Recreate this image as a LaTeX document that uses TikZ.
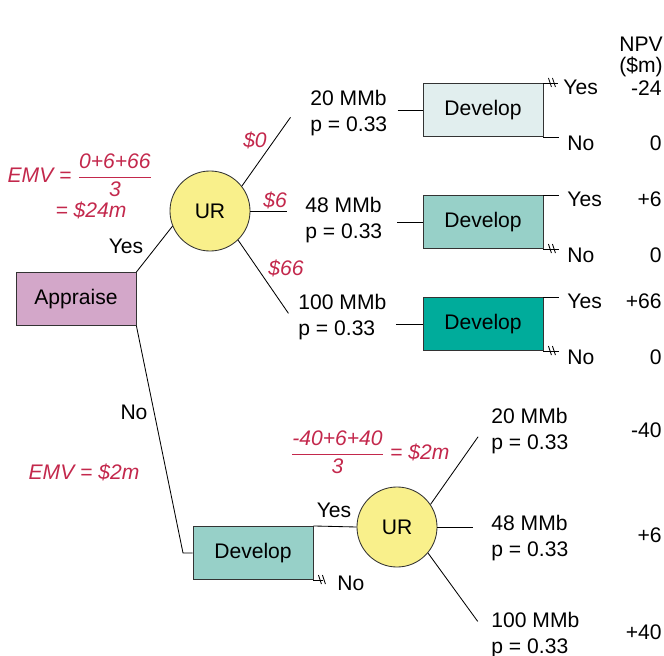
\documentclass[tikz,border=0pt]{standalone}
\usepackage{amsmath}
\usepackage{fontspec}
\setmainfont{Liberation Sans}
\usepackage{tikz}
\usetikzlibrary{positioning}
\definecolor{emvred}{HTML}{C3284C}
\definecolor{apppink}{HTML}{D3A7C9}
\definecolor{devpale}{HTML}{E1EEEE}
\definecolor{devmid}{HTML}{97D0C8}
\definecolor{devdark}{HTML}{00AC9B}
\definecolor{uryellow}{HTML}{F9F08B}
\newcommand{\cutmark}[1]{\draw ([shift={(5,-5)}]#1) -- ++(3,9) ([shift={(9,-5)}]#1) -- ++(3,9);}

\begin{document}
\begin{tikzpicture}[x=0.025cm,y=-0.025cm,line width=0.6pt,
font=\fontsize{15}{18.5}\selectfont,
box/.style={draw=black!80,minimum width=3cm,minimum height=1.33cm,inner sep=2pt},
chance/.style={circle,draw=black!80,fill=uryellow,minimum size=2cm,inner sep=0pt},
lbl/.style={align=left,inner sep=0pt,anchor=west},
val/.style={inner sep=0pt,anchor=east},
emv/.style={text=emvred,font=\fontsize{15}{18.5}\selectfont\itshape,inner sep=0pt}]
\useasboundingbox (0,0) rectangle (664,656);
% appraise and first uncertainty node
\node[box,fill=apppink] (app) at (76,299) {Appraise};
\node[chance] (ur1) at (210,211) {UR};
\node[inner sep=0pt] (yes0) at (126,246) {Yes};
\node[inner sep=0pt] (no0) at (134,412) {No};
\node[emv] (emv1) at (80,175) {EMV = $\dfrac{\text{0+6+66}}{\text{3}}$};
\node[emv] (emv1b) at (91,210) {= \$24m};
\node[emv] (p0) at (255,140) {\$0};
\node[emv] (p6) at (275,200) {\$6};
\node[emv] (p66) at (286,268) {\$66};
\node[lbl] (t20) at (310,113) {20 MMb\\p = 0.33};
\node[lbl] (t48) at (305,220) {48 MMb\\p = 0.33};
\node[lbl] (t100) at (298,317) {100 MMb\\p = 0.33};
\node[box,fill=devpale] (dev1) at (483,110) {Develop};
\node[box,fill=devmid] (dev2) at (483,222) {Develop};
\node[box,fill=devdark] (dev3) at (483,324) {Develop};
\node[lbl] (y1) at (563,87) {Yes};
\node[lbl] (n1) at (567,143) {No};
\node[lbl] (y2) at (567,199) {Yes};
\node[lbl] (n2) at (567,255) {No};
\node[lbl] (y3) at (567,301) {Yes};
\node[lbl] (n3) at (567,357) {No};
% NPV column
\node[align=center,inner sep=0pt] (npv) at (641,57) {NPV\\[-3pt](\$m)};
\node[val] (v1) at (662,88) {-24};
\node[val] (v2) at (662,143) {0};
\node[val] (v3) at (662,199) {+6};
\node[val] (v4) at (662,255) {0};
\node[val] (v5) at (662,301) {+66};
\node[val] (v6) at (662,357) {0};
\node[val] (v7) at (662,430) {-40};
\node[val] (v8) at (662,535) {+6};
\node[val] (v9) at (662,632) {+40};
\draw (app.north east) -- (ur1.202);
\draw[shorten >=24pt] (ur1.38) -- (t20.north west);
\draw[shorten >=13pt] (ur1.east) -- (ur1.east -| t48.west);
\draw[shorten >=12pt] (ur1.-46) -- (t100.193);
\draw[shorten <=7pt] (t20.east |- dev1.west) -- (dev1.west);
\draw[shorten <=10.5pt] (t48.east |- dev2.west) -- (dev2.west);
\draw[shorten <=6.5pt] (t100.east |- dev3.west) -- (dev3.west);
\draw[shorten >=3.5pt] (dev1.north east) -- (dev1.north east -| y1.west);
\draw[shorten >=6pt] (dev1.south east) -- (dev1.south east -| n1.west);
\draw[shorten >=6pt] (dev2.north east) -- (dev2.north east -| y2.west);
\draw[shorten >=6pt] (dev2.south east) -- (dev2.south east -| n2.west);
\draw[shorten >=6pt] (dev3.north east) -- (dev3.north east -| y3.west);
\draw[shorten >=6pt] (dev3.south east) -- (dev3.south east -| n3.west);
\cutmark{dev1.north east}
\cutmark{dev2.south east}
\cutmark{dev3.south east}
% develop without appraisal
\node[emv] (emv3) at (84,472) {EMV = \$2m};
\node[box,fill=devmid] (dev4) at (253,553) {Develop};
\node[chance] (ur2) at (397,527) {UR};
\node[inner sep=0pt] (yes4) at (334,510) {Yes};
\node[lbl] (no4) at (337,583) {No};
\node[emv] (emv2) at (370,452) {$\dfrac{\text{-40+6+40}}{\text{3}}$ = \$2m};
\node[lbl] (b20) at (491,431) {20 MMb\\p = 0.33};
\node[lbl] (b48) at (491,538) {48 MMb\\p = 0.33};
\node[lbl] (b100) at (491,635) {100 MMb\\p = 0.33};
\coordinate (k) at (183,553);
\draw (app.south east) -- (k) -- (dev4.west);
\draw (dev4.north east) -- (ur2.west);
\draw[shorten >=10pt] (dev4.south east) -- (dev4.south east -| no4.west);
\cutmark{dev4.south east}
\draw[shorten >=16pt] (ur2.34) -- (b20.162);
\draw[shorten >=13pt] (ur2.east) -- (ur2.east -| b48.west);
\draw[shorten >=16pt] (ur2.-40) -- (b100.186);
\end{tikzpicture}
\end{document}
